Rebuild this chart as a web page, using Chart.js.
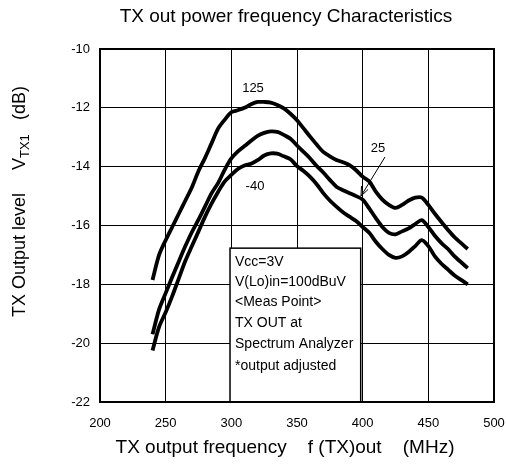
<!DOCTYPE html>
<html>
<head>
<meta charset="utf-8">
<script src="https://cdn.jsdelivr.net/npm/chart.js@4.4.0/dist/chart.umd.min.js"></script>
<style>
  html, body { margin: 0; padding: 0; background: #fff; }
  #wrap { width: 506px; height: 470px; }
</style>
</head>
<body>
<div id="wrap"><canvas id="txChart" width="506" height="470"></canvas></div>
<script>
// frequency points (MHz)
const freqs = [240, 245, 250, 255, 260, 265, 270, 275, 280, 285, 290, 295, 300, 305, 310, 315,
               320, 325, 330, 335, 340, 345, 350, 355, 360, 365, 370, 375, 380, 385, 390, 395,
               400, 405, 410, 415, 420, 425, 430, 435, 440, 445, 450, 455, 460, 465, 470, 475, 480];

// output level (dB) at Ta = 125, 25, -40
const level125 = [-17.85, -17.0, -16.5, -16.05, -15.6, -15.15, -14.7, -14.15, -13.7, -13.2, -12.7, -12.4,
                  -12.15, -12.08, -12.0, -11.88, -11.8, -11.8, -11.82, -11.9, -12.02, -12.2, -12.42, -12.7,
                  -12.98, -13.25, -13.5, -13.65, -13.77, -13.85, -13.95, -14.12, -14.34, -14.5, -14.85, -15.12,
                  -15.3, -15.4, -15.3, -15.15, -15.05, -15.05, -15.3, -15.6, -15.88, -16.15, -16.4, -16.6, -16.8];
const level25 = [-19.7, -18.85, -18.3, -17.75, -17.22, -16.7, -16.22, -15.8, -15.35, -14.9, -14.55, -14.1,
                 -13.72, -13.48, -13.3, -13.12, -12.95, -12.85, -12.8, -12.82, -12.92, -13.05, -13.28, -13.5,
                 -13.72, -13.98, -14.2, -14.45, -14.68, -14.8, -14.9, -15.0, -15.12, -15.42, -15.75, -16.05,
                 -16.25, -16.3, -16.2, -16.1, -15.95, -15.82, -16.05, -16.35, -16.6, -16.8, -17.05, -17.25, -17.45];
const levelM40 = [-20.25, -19.45, -18.95, -18.4, -17.8, -17.2, -16.7, -16.2, -15.7, -15.25, -14.85, -14.5,
                  -14.28, -14.08, -13.96, -13.9, -13.78, -13.62, -13.55, -13.56, -13.65, -13.75, -13.98, -14.15,
                  -14.35, -14.6, -14.9, -15.15, -15.36, -15.55, -15.7, -15.85, -16.05, -16.25, -16.55, -16.8,
                  -17.0, -17.1, -17.05, -16.9, -16.7, -16.5, -16.7, -17.05, -17.3, -17.5, -17.7, -17.85, -18.0];

const xTicks = [200, 250, 300, 350, 400, 450, 500];
const yTicks = [-10, -12, -14, -16, -18, -20, -22];

const noteLines = ['Vcc=3V', 'V(Lo)in=100dBuV', '<Meas Point>', 'TX OUT at', 'Spectrum Analyzer', '*output adjusted'];

const FONT = '"Liberation Sans", Arial, sans-serif';

function toPoints(vals) {
    return freqs.map((f, i) => ({ x: f, y: vals[i] }));
}

function curve(label, vals) {
    return {
        label: label,
        data: toPoints(vals),
        borderColor: '#000',
        borderWidth: 3.8,
        pointRadius: 0,
        tension: 0.3,
        fill: false
    };
}

// titles, curve labels and the condition box
const decorations = {
    id: 'decorations',
    afterDatasetsDraw(chart) {
        const c = chart.ctx;
        const xs = chart.scales.x, ys = chart.scales.y;
        c.save();
        c.fillStyle = '#000';
        c.textBaseline = 'middle';

        // main title
        c.textAlign = 'center';
        c.font = '19px ' + FONT;
        c.fillText('TX out power frequency Characteristics', 286, 17);

        // x axis title
        c.fillText('TX output frequency    f (TX)out    (MHz)', 285, 448);

        // y axis title, written upward from the bottom
        c.save();
        c.translate(20, 317);
        c.rotate(-Math.PI / 2);
        c.textAlign = 'left';
        c.font = '18px ' + FONT;
        c.fillText('TX Output level', 0, 0);
        c.fillText('V', 147, 0);
        const wV = c.measureText('V').width;
        c.font = '13px ' + FONT;
        c.fillText('TX1', 147 + wV, 5);
        c.font = '18px ' + FONT;
        c.fillText('(dB)', 197, 0);
        c.restore();

        // curve labels
        c.font = '13px ' + FONT;
        c.textAlign = 'center';
        c.fillText('125', 253, 88);
        c.fillText('-40', 255, 186);
        c.fillText('25', 378, 148);

        // arrow to the 25 curve
        c.strokeStyle = '#000';
        c.lineWidth = 1;
        c.beginPath();
        c.moveTo(385, 157);
        c.lineTo(361, 196);
        c.stroke();
        c.beginPath();
        c.moveTo(361, 196);
        c.lineTo(361.5, 186);
        c.moveTo(361, 196);
        c.lineTo(368, 189.5);
        c.stroke();

        // condition box
        const bx = xs.getPixelForValue(299);
        const bRight = xs.getPixelForValue(398.5);
        const by = ys.getPixelForValue(-16.77);
        const bBottom = ys.getPixelForValue(-22);
        c.fillStyle = '#fff';
        c.fillRect(bx, by, bRight - bx, bBottom - by);
        c.strokeStyle = '#000';
        c.lineWidth = 1.5;
        c.strokeRect(bx, by, bRight - bx, bBottom - by);

        c.fillStyle = '#000';
        c.textAlign = 'left';
        c.font = '14px ' + FONT;
        const lineY = [262, 282, 302, 323, 344, 366];
        noteLines.forEach((t, i) => c.fillText(t, bx + 5, lineY[i]));
        c.restore();
    }
};

const ctx = document.getElementById('txChart').getContext('2d');

let chart = new Chart(ctx, {
    type: 'line',
    data: {
        datasets: [
            curve('125', level125),
            curve('25', level25),
            curve('-40', levelM40)
        ]
    },
    options: {
        responsive: false,
        animation: false,
        layout: { padding: { left: 0, right: 0, top: 49, bottom: 0 } },
        plugins: {
            legend: { display: false },
            title: { display: false },
            tooltip: { enabled: false }
        },
        scales: {
            x: {
                type: 'linear',
                min: 200,
                max: 500,
                afterBuildTicks: (s) => { s.ticks = xTicks.map(v => ({ value: v })); },
                afterFit: (s) => {
                    s.height = 68;
                    s.paddingLeft = 0;
                    s.paddingRight = 12;
                },
                ticks: {
                    color: '#000',
                    font: { family: FONT, size: 13 },
                    padding: 14,
                    maxRotation: 0
                },
                grid: { color: '#000', lineWidth: 1, drawTicks: false },
                border: { color: '#000', width: 2 }
            },
            y: {
                min: -22,
                max: -10,
                afterBuildTicks: (s) => { s.ticks = yTicks.map(v => ({ value: v })); },
                afterFit: (s) => { s.width = 100; },
                ticks: {
                    color: '#000',
                    font: { family: FONT, size: 13 },
                    padding: 10
                },
                grid: { color: '#000', lineWidth: 1, drawTicks: false },
                border: { color: '#000', width: 2 }
            }
        }
    },
    plugins: [decorations, {
        id: 'frame',
        afterDraw(chart) {
            const a = chart.chartArea;
            const c = chart.ctx;
            c.save();
            c.strokeStyle = '#000';
            c.lineWidth = 2;
            c.strokeRect(a.left, a.top, a.right - a.left, a.bottom - a.top);
            c.restore();
        }
    }]
});
</script>
</body>
</html>
